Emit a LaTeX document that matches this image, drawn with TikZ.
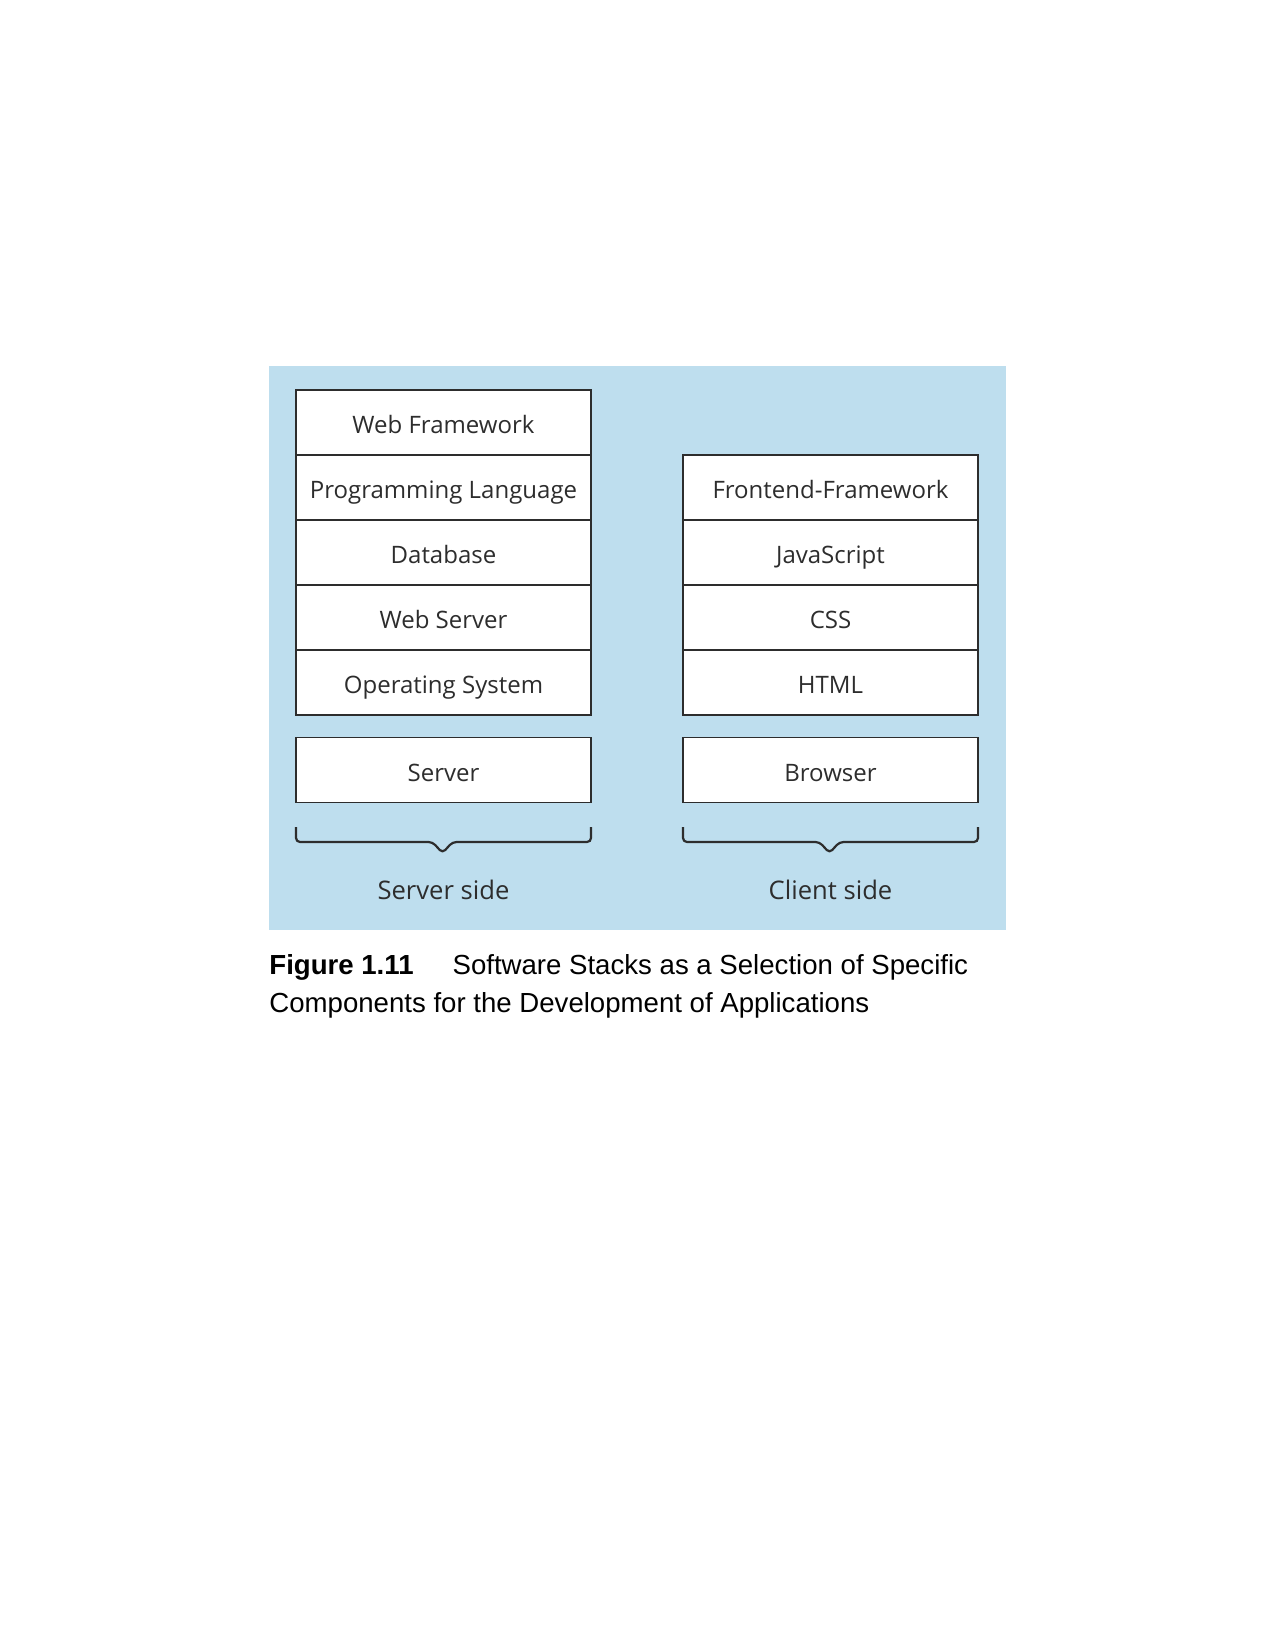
\documentclass[tikz,border=0pt]{standalone}
\usepackage{fontspec}
\setmainfont{Liberation Sans}
\newfontfamily\stackfont{Open Sans}
\usetikzlibrary{positioning}
\definecolor{panelblue}{RGB}{190,222,238}
\definecolor{inkgray}{RGB}{45,45,45}
\tikzset{
  layer/.style={draw=inkgray, line width=0.7pt, fill=white, inner sep=0pt, outer sep=0pt,
    minimum width=147.5pt, minimum height=32.5pt, text=inkgray,
    text height=12.5pt, text depth=1.1pt,
    font=\stackfont\fontsize{12}{14}\selectfont},
  sidelabel/.style={text=inkgray, font=\stackfont\fontsize{12.8}{15}\selectfont},
  bracket/.style={draw=inkgray, line width=1.1pt, rounded corners=2pt}
}
\begin{document}
\begin{tikzpicture}[x=0.5pt, y=-0.5pt]
  \useasboundingbox (0,0) rectangle (1275,1649);
  \fill[white] (0,0) rectangle (1275,1649);
  \fill[panelblue] (269,366) rectangle (1006,930);
  % server stack
  \node[layer] (webfw) at (443.5,422.5) {Web Framework};
  \node[layer, below=0pt of webfw] (proglang) {Programming Language};
  \node[layer, below=0pt of proglang] (db) {Database};
  \node[layer, below=0pt of db] (websrv) {Web Server};
  \node[layer, below=0pt of websrv] (os) {Operating System};
  \node[layer] (server) at (443.5,770) {Server};
  % client stack
  \node[layer] (frontfw) at (830.5,487.5) {Frontend-Framework};
  \node[layer, below=0pt of frontfw] (js) {JavaScript};
  \node[layer, below=0pt of js] (css) {CSS};
  \node[layer, below=0pt of css] (html) {HTML};
  \node[layer] (browser) at (830.5,770) {Browser};
  % braces
  \coordinate (sl) at (296,827); \coordinate (sr) at (591,827);
  \coordinate (cl) at (683,827); \coordinate (cr) at (978,827);
  \draw[bracket] (sl) -- (296,842) -- (432.5,842) -- (442.5,853) -- (452.5,842) -- (591,842) -- (sr);
  \draw[bracket] (cl) -- (683,842) -- (819.5,842) -- (829.5,853) -- (839.5,842) -- (978,842) -- (cr);
  \node[sidelabel] (serverside) at (443.5,890) {Server side};
  \node[sidelabel] (clientside) at (830.5,890) {Client side};
  % caption
  \node[anchor=north west, inner sep=0pt, align=left,
    font=\fontsize{13.8}{19}\selectfont] (caption) at (269,954)
    {\textbf{Figure 1.11}\hspace{19.5pt}Software Stacks as a Selection of Specific\\
     Components for the Development of Applications};
\end{tikzpicture}
\end{document}
